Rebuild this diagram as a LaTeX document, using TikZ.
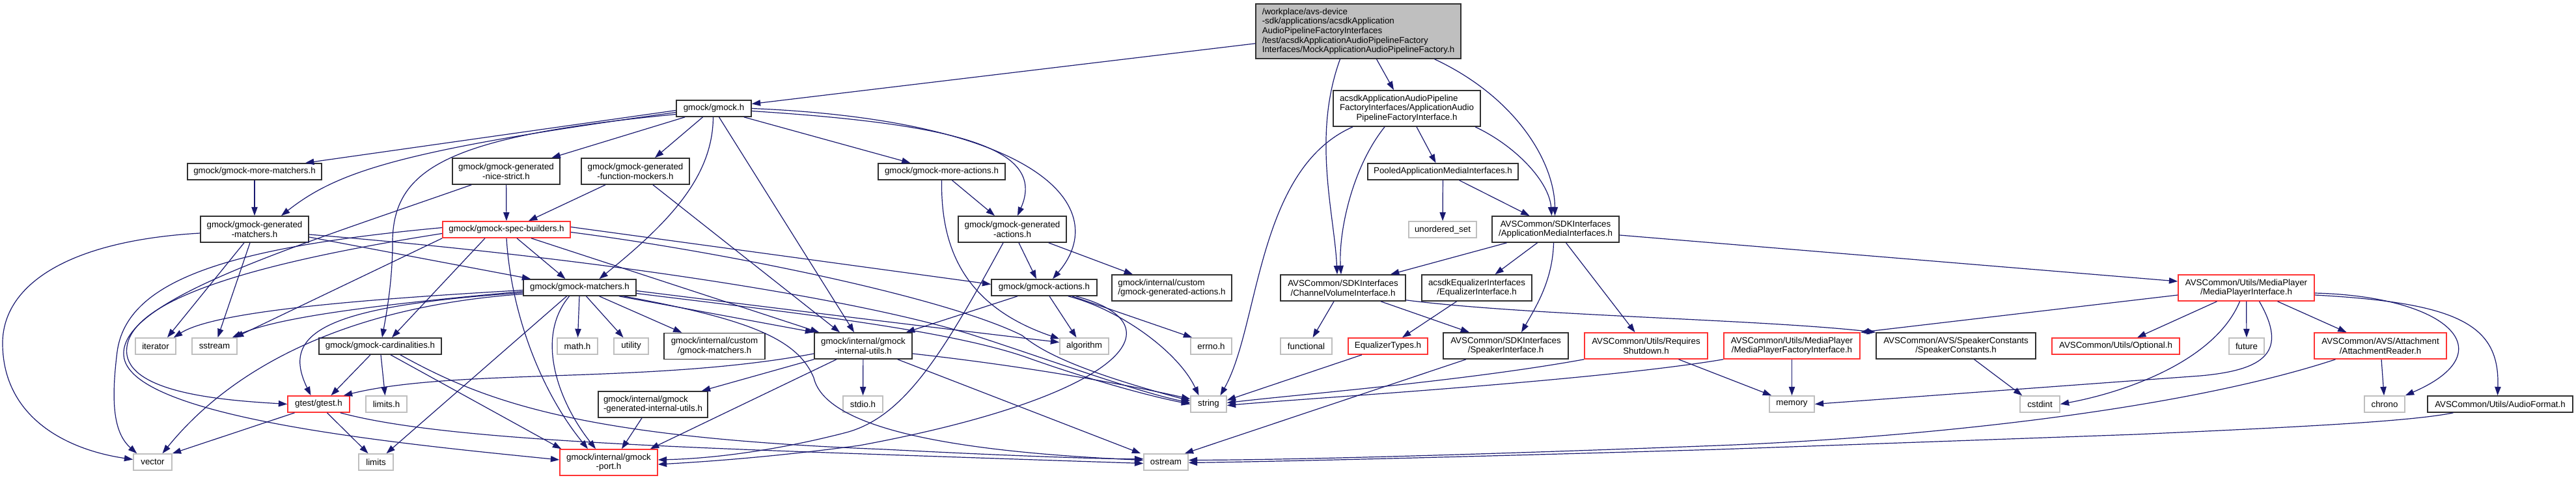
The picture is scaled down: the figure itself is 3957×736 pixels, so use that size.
\documentclass[tikz,border=0pt]{standalone}
\usepackage{fontspec}
\usepackage{calc}
\setmainfont{Liberation Sans}
\usetikzlibrary{arrows.meta,calc}
\definecolor{edgec}{HTML}{191970}
\definecolor{redb}{HTML}{FF3333}
\definecolor{grayb}{HTML}{BFBFBF}
\definecolor{blkb}{HTML}{303030}
\tikzset{
  dnode/.style={draw=blkb, fill=white, line width=1.2pt, inner sep=0pt, align=center, font=\fontsize{10pt}{11pt}\selectfont},
  rnode/.style={dnode, draw=redb},
  gnode/.style={dnode, draw=grayb},
  mnode/.style={dnode, fill=grayb, align=left},
  boxsz/.style 2 args={minimum width=#1*0.75pt, minimum height=#2*0.75pt},
  dedge/.style={draw=edgec, line width=0.9pt, -{Triangle[length=10pt,width=7pt,fill=edgec]}},
}
\begin{document}
\begin{tikzpicture}[x=0.75pt,y=-0.75pt]
\fill[white] (0,0) rectangle (3957,736);
\useasboundingbox (0,0) rectangle (3957,736);
% ---------------- nodes ----------------
\node[mnode, boxsz={315}{84}] (M) at (2086.5,48) {/workplace/avs-device\\-sdk/applications/acsdkApplication\\AudioPipelineFactoryInterfaces\\/test/acsdkApplicationAudioPipelineFactory\\Interfaces/MockApplicationAudioPipelineFactory.h};
\node[dnode, boxsz={115}{25}] (G) at (1096.5,166.5) {gmock/gmock.h};
\node[dnode, boxsz={226}{55}] (A) at (2161,166.5) {\makebox[\widthof{FactoryInterfaces/ApplicationAudio}][l]{acsdkApplicationAudioPipeline}\\FactoryInterfaces/ApplicationAudio\\PipelineFactoryInterface.h};
\node[dnode, boxsz={206}{25}] (mmat) at (391,263.5) {gmock/gmock-more-matchers.h};
\node[dnode, boxsz={165}{40}] (ns) at (777.5,263) {gmock/gmock-generated\\-nice-strict.h};
\node[dnode, boxsz={166}{40}] (fm) at (976,263) {gmock/gmock-generated\\-function-mockers.h};
\node[dnode, boxsz={195}{25}] (ma) at (1446.5,263.5) {gmock/gmock-more-actions.h};
\node[dnode, boxsz={231}{25}] (pool) at (2216.5,263.5) {PooledApplicationMediaInterfaces.h};
\node[dnode, boxsz={166}{40}] (gmat) at (391,352) {gmock/gmock-generated\\-matchers.h};
\node[rnode, boxsz={196}{25}] (SB) at (778,352.5) {gmock/gmock-spec-builders.h};
\node[dnode, boxsz={166}{40}] (ga) at (1555,352) {gmock/gmock-generated\\-actions.h};
\node[gnode, boxsz={104}{25}] (unord) at (2216,352.5) {unordered\_set};
\node[dnode, boxsz={195}{40}] (AMI) at (2389.5,352) {AVSCommon/SDKInterfaces\\/ApplicationMediaInterfaces.h};
\node[dnode, boxsz={173}{25}] (gm) at (890.5,441.5) {gmock/gmock-matchers.h};
\node[dnode, boxsz={162}{25}] (gact) at (1604,441.5) {gmock/gmock-actions.h};
\node[dnode, boxsz={184}{40}, align=left] (cga) at (1800,442) {gmock/internal/custom\\/gmock-generated-actions.h};
\node[dnode, boxsz={192}{40}] (CVI) at (2063,442) {AVSCommon/SDKInterfaces\\/ChannelVolumeInterface.h};
\node[dnode, boxsz={169}{40}] (EqI) at (2268.5,442) {acsdkEqualizerInterfaces\\/EqualizerInterface.h};
\node[rnode, boxsz={209}{40}] (MPI) at (3450.5,442) {AVSCommon/Utils/MediaPlayer\\/MediaPlayerInterface.h};
\node[gnode, boxsz={62}{25}] (iter) at (239,531.5) {iterator};
\node[gnode, boxsz={69}{25}] (sstr) at (329.5,531.5) {sstream};
\node[dnode, boxsz={188}{25}] (card) at (584,531.5) {gmock/gmock-cardinalities.h};
\node[gnode, boxsz={62}{25}] (math) at (887,531.5) {math.h};
\node[gnode, boxsz={53}{25}] (util) at (969.5,531.5) {utility};
\node[dnode, boxsz={155}{40}] (cm) at (1097.5,531.5) {gmock/internal/custom\\/gmock-matchers.h};
\node[dnode, boxsz={150}{40}] (iu) at (1326,531) {gmock/internal/gmock\\-internal-utils.h};
\node[gnode, boxsz={75}{25}] (alg) at (1665.5,531.5) {algorithm};
\node[gnode, boxsz={63}{25}] (errno) at (1860.5,531.5) {errno.h};
\node[gnode, boxsz={79}{25}] (func) at (2006.5,531.5) {functional};
\node[rnode, boxsz={122}{25}] (ET) at (2132,531.5) {EqualizerTypes.h};
\node[dnode, boxsz={192}{40}] (SI) at (2313,531) {AVSCommon/SDKInterfaces\\/SpeakerInterface.h};
\node[rnode, boxsz={189}{40}] (RS) at (2528.5,531) {AVSCommon/Utils/Requires\\Shutdown.h};
\node[rnode, boxsz={209}{40}] (MPFI) at (2752.5,531) {AVSCommon/Utils/MediaPlayer\\/MediaPlayerFactoryInterface.h};
\node[dnode, boxsz={245}{40}] (SC) at (3004.5,531) {AVSCommon/AVS/SpeakerConstants\\/SpeakerConstants.h};
\node[rnode, boxsz={196}{25}] (opt) at (3250,531.5) {AVSCommon/Utils/Optional.h};
\node[gnode, boxsz={54}{25}] (fut) at (3451,531.5) {future};
\node[rnode, boxsz={203}{40}] (AR) at (3656.5,531) {AVSCommon/AVS/Attachment\\/AttachmentReader.h};
\node[rnode, boxsz={95}{25}] (gtest) at (489.5,620.5) {gtest/gtest.h};
\node[gnode, boxsz={63}{25}] (limh) at (593.5,620.5) {limits.h};
\node[dnode, boxsz={168}{40}, align=left] (giu) at (1003,621) {gmock/internal/gmock\\-generated-internal-utils.h};
\node[gnode, boxsz={61}{25}] (stdio) at (1325.5,620.5) {stdio.h};
\node[gnode, boxsz={55}{25}] (str) at (1856.5,620.5) {string};
\node[gnode, boxsz={69}{25}] (mem) at (2752.5,620.5) {memory};
\node[gnode, boxsz={61}{25}] (cstd) at (3133.5,620.5) {cstdint};
\node[gnode, boxsz={62}{25}] (chr) at (3663,620.5) {chrono};
\node[dnode, boxsz={223}{25}] (AF) at (3840.5,620.5) {AVSCommon/Utils/AudioFormat.h};
\node[gnode, boxsz={59}{25}] (vec) at (234.5,709.5) {vector};
\node[gnode, boxsz={53}{25}] (lim) at (577.5,709.5) {limits};
\node[rnode, boxsz={150}{40}] (port) at (935,710) {gmock/internal/gmock\\-port.h};
\node[gnode, boxsz={68}{25}] (ostr) at (1791,709.5) {ostream};
% ---------------- edges: main ----------------
\draw[dedge] (M) -- (G);
\draw[dedge] ($(M.south)+(28,0)$) -- ($(A.north)+(-20,0)$);
\draw[dedge] ($(M.south)+(117,0)$) .. controls (2330,150) and (2388,250) .. ($(AMI.north)+(-1,0)$);
\draw[dedge] ($(M.south)+(-28,0)$) .. controls (2015,210) and (2050,330) .. ($(CVI.north)+(-9,0)$);
% A
\draw[dedge] ($(A.south)+(15,0)$) -- ($(pool.north)+(-11,0)$);
\draw[dedge] ($(A.south)+(105,0)$) .. controls (2330,225) and (2380,280) .. ($(AMI.north)+(-6,0)$);
\draw[dedge] ($(A.south)+(-34,0)$) .. controls (2075,260) and (2056,360) .. ($(CVI.north)+(-3,0)$);
\draw[dedge] ($(A.south)+(-83,0)$) .. controls (1930,260) and (1935,500) .. ($(str.north)+(18,0)$);
% Pooled
\draw[dedge] (pool) -- (unord);
\draw[dedge] ($(pool.south)+(25,0)$) -- ($(AMI.north)+(-40,0)$);
% AMI
\draw[dedge] ($(AMI.south)+(-75,0)$) -- ($(CVI.north)+(73,0)$);
\draw[dedge] ($(AMI.south)+(-28,0)$) -- ($(EqI.north)+(28,0)$);
\draw[dedge] ($(AMI.south)+(-3,0)$) .. controls (2385,430) and (2360,470) .. ($(SI.north)+(24,0)$);
\draw[dedge] ($(AMI.south)+(16,0)$) -- ($(RS.north)+(-17,0)$);
\draw[dedge] ($(AMI.east)+(0,9)$) -- ($(MPI.west)+(0,-10)$);
% CVI
\draw[dedge] ($(CVI.south)+(-14,0)$) -- ($(func.north)+(10,0)$);
\draw[dedge] ($(CVI.south)+(58,0)$) -- ($(SI.north)+(-56,0)$);
\draw[dedge] ($(CVI.south east)+(0,-2)$) .. controls (2350,485) and (2700,490) .. (SC.north west);
% EqI, ET, SI, RS, MPFI, SC
\draw[dedge] ($(EqI.south)+(-31,0)$) -- ($(ET.north)+(22,0)$);
\draw[dedge] ($(ET.south)+(-40,0)$) -- ($(str.east)+(0,-6)$);
\draw[dedge] ($(SI.south)+(-61,0)$) -- ($(ostr.north east)+(-6,0)$);
\draw[dedge] (RS.south west) .. controls (2250,585) and (2000,605) .. ($(str.east)+(0,-2)$);
\draw[dedge] ($(RS.south)+(50,0)$) -- ($(mem.north west)+(4,0)$);
\draw[dedge] (MPFI.south west) .. controls (2450,585) and (2000,612) .. ($(str.east)+(0,2)$);
\draw[dedge] (MPFI) -- (mem);
\draw[dedge] ($(SC.south)+(28,0)$) -- ($(cstd.north west)+(4,0)$);
% MPI
\draw[dedge] ($(MPI.west)+(0,11)$) -- (MPFI.north east);
\draw[dedge] ($(MPI.south)+(-45,0)$) -- ($(opt.north)+(33,0)$);
\draw[dedge] (MPI) -- (fut);
\draw[dedge] ($(MPI.south)+(48,0)$) -- ($(AR.north)+(-52,0)$);
\draw[dedge] ($(MPI.east)+(0,8)$) .. controls (3760,455) and (3850,540) .. (chr.north east);
\draw[dedge] ($(MPI.east)+(0,11)$) .. controls (3780,465) and (3840,500) .. ($(AF.north)+(-4,0)$);
\draw[dedge] ($(MPI.south)+(-10,0)$) .. controls (3400,560) and (3250,605) .. (cstd.east);
\draw[dedge] ($(MPI.south)+(20,0)$) .. controls (3515,540) and (3480,568) .. (3380,577) -- (mem.east);
% AR, AF
\draw[dedge] (AR) -- (chr);
\draw[dedge] ($(AR.south)+(-69,0)$) .. controls (3350,630) and (2950,672) .. (2640,684) .. controls (2300,697) and (2000,706) .. ($(ostr.east)+(0,-3)$);
\draw[dedge] ($(AF.south)+(-72,0)$) .. controls (3700,648) and (3500,657) .. (3280,667) -- (2640,690) .. controls (2300,700) and (2000,708) .. ($(ostr.east)+(0,1)$);
% ---------------- gmock.h ----------------
\draw[dedge] ($(G.west)+(0,3)$) -- ($(mmat.north)+(78,0)$);
\draw[dedge] ($(G.west)+(0,6)$) .. controls (620,230) and (520,262) .. ($(gmat.north)+(41,0)$);
\draw[dedge] ($(G.west)+(0,9)$) .. controls (680,210) and (600,260) .. (603,380) .. controls (602,440) and (592,490) .. ($(card.north)+(3,0)$);
\draw[dedge] ($(G.south west)+(14,0)$) -- ($(ns.north)+(70,0)$);
\draw[dedge] ($(G.south)+(-17,0)$) -- ($(fm.north)+(30,0)$);
\draw[dedge] ($(G.south)+(-1,0)$) .. controls (1095,270) and (1030,340) .. ($(gm.north)+(30,0)$);
\draw[dedge] ($(G.south)+(8,0)$) -- ($(iu.north)+(-14,0)$);
\draw[dedge] ($(G.south east)+(-12,0)$) -- ($(ma.north)+(-48,0)$);
\draw[dedge] ($(G.east)+(0,4)$) .. controls (1460,190) and (1610,225) .. ($(ga.north)+(8,0)$);
\draw[dedge] (G.east) .. controls (1600,185) and (1710,320) .. ($(gact.north)+(13,0)$);
% more-matchers, generated-matchers
\draw[dedge] (mmat) -- (gmat);
\draw[dedge] ($(gmat.south)+(-16,0)$) -- ($(iter.north)+(18,0)$);
\draw[dedge] ($(gmat.south)+(-7,0)$) -- ($(sstr.north)+(5,0)$);
\draw[dedge] ($(gmat.west)+(0,6)$) .. controls (100,370) and (2,440) .. (4,530) .. controls (6,640) and (100,690) .. ($(vec.west)+(0,-4)$);
\draw[dedge] ($(gmat.east)+(0,12)$) -- ($(gm.north west)+(12,0)$);
\draw[dedge] ($(gmat.east)+(0,8)$) .. controls (900,395) and (1300,455) .. (1490,513) .. controls (1600,548) and (1740,600) .. ($(str.west)+(0,-2)$);
% nice-strict, function-mockers
\draw[dedge] (ns) -- (SB);
\draw[dedge] ($(ns.south west)+(30,0)$) .. controls (450,380) and (185,460) .. (190,545) .. controls (195,640) and (600,680) .. ($(port.west)+(0,-4)$);
\draw[dedge] ($(fm.south)+(-46,0)$) -- ($(SB.north)+(34,0)$);
\draw[dedge] ($(fm.south)+(27,0)$) -- ($(iu.north)+(-36,0)$);
% spec-builders
\draw[dedge] ($(SB.east)+(0,-4)$) -- ($(gact.west)+(0,-5)$);
\draw[dedge] ($(SB.east)+(0,4)$) .. controls (1100,385) and (1450,455) .. (1570,515) .. controls (1595,535) and (1640,565) .. ($(str.west)+(0,-5)$);
\draw[dedge] ($(SB.south)+(16,0)$) -- ($(gm.north)+(-22,0)$);
\draw[dedge] ($(SB.south)+(38,0)$) -- ($(iu.north west)+(8,0)$);
\draw[dedge] (SB.south) .. controls (785,480) and (830,600) .. ($(port.north)+(-32,0)$);
\draw[dedge] ($(SB.south)+(-33,0)$) -- ($(card.north)+(18,0)$);
\draw[dedge] (SB.south west) -- ($(sstr.north east)+(-4,0)$);
\draw[dedge] ($(SB.west)+(0,-3)$) .. controls (350,380) and (195,430) .. (180,540) .. controls (170,620) and (175,665) .. ($(vec.north west)+(6,0)$);
\draw[dedge] ($(SB.west)+(0,6)$) .. controls (350,410) and (185,470) .. (195,545) .. controls (205,605) and (350,615) .. (gtest.west);
% gmock-matchers
\draw[dedge] (gm) -- (math);
\draw[dedge] ($(gm.south)+(10,0)$) -- ($(util.north)+(-12,0)$);
\draw[dedge] ($(gm.south)+(30,0)$) -- ($(cm.north)+(-50,0)$);
\draw[dedge] ($(gm.south east)+(-27,0)$) -- (iu.north west);
\draw[dedge] ($(gm.east)+(0,5)$) .. controls (1150,468) and (1450,505) .. ($(alg.west)+(0,-6)$);
\draw[dedge] ($(gm.east)+(0,9)$) .. controls (1200,478) and (1450,505) .. (1575,548) .. controls (1650,575) and (1750,605) .. (str.west);
\draw[dedge] ($(gm.south east)+(-20,0)$) .. controls (1150,490) and (1225,520) .. (1250,580) .. controls (1270,665) and (1500,695) .. ($(ostr.west)+(0,-3)$);
\draw[dedge] ($(gm.south)+(-16,0)$) .. controls (820,520) and (860,620) .. ($(port.north)+(-20,0)$);
\draw[dedge] ($(gm.south)+(-20,0)$) -- ($(lim.north)+(16,0)$);
\draw[dedge] ($(gm.west)+(0,4)$) .. controls (550,460) and (330,478) .. ($(iter.north east)+(-4,0)$);
\draw[dedge] ($(gm.west)+(0,6)$) .. controls (550,470) and (420,490) .. ($(sstr.north east)+(-8,0)$);
\draw[dedge] ($(gm.west)+(0,8)$) .. controls (500,470) and (430,510) .. ($(gtest.north)+(-12,0)$);
\draw[dedge] ($(gm.west)+(0,10)$) .. controls (540,470) and (360,560) .. ($(vec.north)+(15,0)$);
% cardinalities
\draw[dedge] ($(card.south)+(-15,0)$) -- ($(gtest.north)+(19,0)$);
\draw[dedge] ($(card.south)+(1,0)$) -- ($(limh.north)+(-2,0)$);
\draw[dedge] ($(card.south)+(16,0)$) -- ($(port.north west)+(3,0)$);
\draw[dedge] ($(card.south east)+(-64,0)$) .. controls (750,620) and (900,672) .. (1360,690) .. controls (1550,700) and (1700,705) .. ($(ostr.west)+(0,-5)$);
% gtest
\draw[dedge] ($(gtest.south)+(-37,0)$) -- (vec.north east);
\draw[dedge] ($(gtest.south)+(13,0)$) -- ($(lim.north)+(-12,0)$);
\draw[dedge] ($(gtest.south east)+(-15,0)$) .. controls (650,668) and (900,682) .. (1300,696) .. controls (1500,703) and (1650,708) .. ($(ostr.west)+(0,2)$);
% internal-utils
\draw[dedge] (iu.south west) -- ($(giu.north east)+(-10,0)$);
\draw[dedge] ($(iu.south)+(-41,0)$) -- ($(port.north east)+(-12,0)$);
\draw[dedge] (iu) -- (stdio);
\draw[dedge] ($(iu.west)+(0,12)$) .. controls (1000,590) and (700,565) .. ($(gtest.north east)+(-10,0)$);
\draw[dedge] ($(iu.east)+(0,12)$) .. controls (1600,565) and (1750,595) .. ($(str.west)+(0,-8)$);
\draw[dedge] ($(iu.south east)+(-23,0)$) -- ($(ostr.north west)+(-4,0)$);
\draw[dedge] ($(giu.south)+(-17,0)$) -- ($(port.north)+(20,0)$);
% more-actions, generated-actions, actions
\draw[dedge] ($(ma.south)+(16,0)$) -- ($(ga.north)+(-27,0)$);
\draw[dedge] (ma.south) .. controls (1445,380) and (1480,470) .. ($(alg.north west)+(0,2)$);
\draw[dedge] ($(ga.south)+(10,0)$) -- ($(gact.north)+(-12,0)$);
\draw[dedge] ($(ga.south east)+(-28,0)$) -- ($(cga.north)+(-60,0)$);
\draw[dedge] ($(ga.south)+(-14,0)$) .. controls (1450,540) and (1390,640) .. (1300,664) .. controls (1200,690) and (1100,704) .. ($(port.east)+(0,-4)$);
\draw[dedge] ($(gact.south)+(-41,0)$) -- ($(iu.north east)+(-10,0)$);
\draw[dedge] ($(gact.south)+(8,0)$) -- ($(alg.north)+(-12,0)$);
\draw[dedge] ($(gact.south east)+(-39,0)$) -- ($(errno.north west)+(3,0)$);
\draw[dedge] ($(gact.south east)+(-45,0)$) .. controls (1720,475) and (1810,540) .. ($(str.north)+(-15,0)$);
\draw[dedge] ($(gact.south east)+(-33,0)$) .. controls (1820,500) and (1720,610) .. (1320,684) .. controls (1200,700) and (1100,708) .. ($(port.east)+(0,3)$);
\end{tikzpicture}
\end{document}
